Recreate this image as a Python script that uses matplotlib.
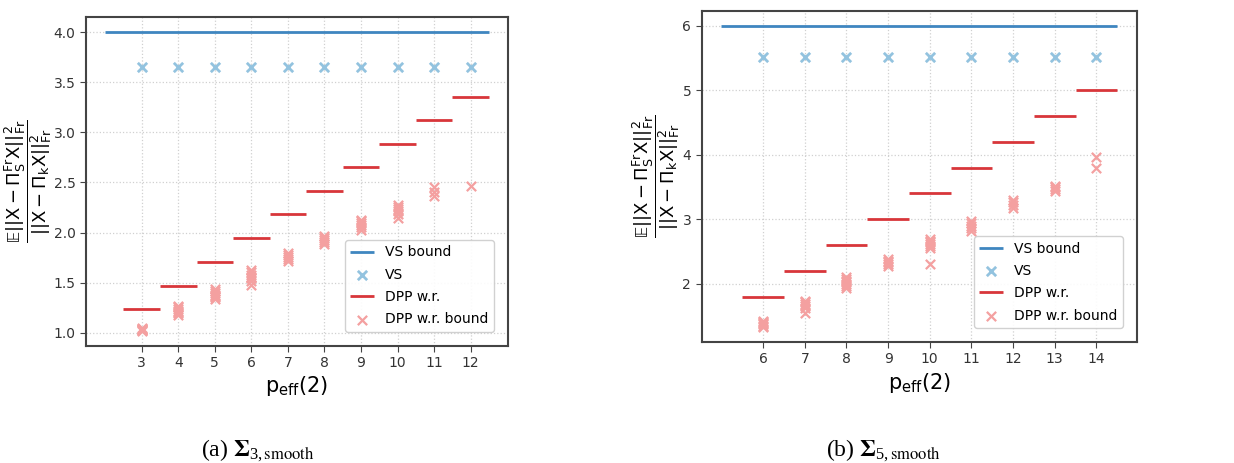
import matplotlib
matplotlib.use("Agg")
import matplotlib.pyplot as plt

plt.rcParams['mathtext.default'] = 'regular'
plt.rcParams['font.family'] = ['DejaVu Sans']

# panel (a): Sigma_3,smooth
p_a = [3, 4, 5, 6, 7, 8, 9, 10, 11, 12]
vs_bound_a = 4.0
vs_a = [3.65, 3.65, 3.65, 3.65, 3.65, 3.65, 3.65, 3.65, 3.65, 3.65]
dpp_a = [1.236, 1.472, 1.709, 1.945, 2.181, 2.414, 2.650, 2.886, 3.122, 3.355]
dpp_samples_a = [
    [1.02, 1.03, 1.04, 1.05, 1.03, 1.04],
    [1.18, 1.20, 1.22, 1.24, 1.26, 1.27, 1.21],
    [1.34, 1.36, 1.38, 1.40, 1.42, 1.44, 1.37],
    [1.48, 1.52, 1.55, 1.58, 1.61, 1.63, 1.56],
    [1.72, 1.74, 1.76, 1.78, 1.80],
    [1.89, 1.91, 1.93, 1.95, 1.97],
    [2.03, 2.06, 2.08, 2.10, 2.12, 2.13],
    [2.15, 2.19, 2.22, 2.24, 2.26, 2.28],
    [2.37, 2.41, 2.46],
    [2.47],
]

# panel (b): Sigma_5,smooth
p_b = [6, 7, 8, 9, 10, 11, 12, 13, 14]
vs_bound_b = 6.0
vs_b = [5.51, 5.51, 5.51, 5.51, 5.51, 5.51, 5.51, 5.51, 5.51]
dpp_b = [1.8, 2.2, 2.6, 3.0, 3.4, 3.8, 4.2, 4.6, 5.0]
dpp_samples_b = [
    [1.33, 1.35, 1.37, 1.39, 1.41, 1.43],
    [1.55, 1.62, 1.65, 1.68, 1.71, 1.74],
    [1.93, 1.96, 1.99, 2.02, 2.05, 2.08, 2.10],
    [2.27, 2.30, 2.33, 2.36, 2.38],
    [2.31, 2.55, 2.58, 2.61, 2.64, 2.67, 2.69],
    [2.82, 2.86, 2.90, 2.94, 2.98],
    [3.18, 3.22, 3.26, 3.30],
    [3.44, 3.47, 3.50, 3.52],
    [3.79, 3.97],
]

YLABEL = (r'$\dfrac{\mathbb{E}||X-\Pi_S^{Fr}X||_{Fr}^2}'
          r'{||X-\Pi_kX||_{Fr}^2}$')


def draw_panel(ax, p, vs_bound, vs, dpp, samples, label_x):
    ax.hlines(vs_bound, min(p) - 1, max(p) + 0.5, color='#3f86c0', lw=2,
              label='VS bound', zorder=3)
    ax.scatter(p, vs, marker='x', s=45, color='#93c3df', lw=2, label='VS',
               zorder=3)
    for i, (k, v) in enumerate(zip(p, dpp)):
        ax.hlines(v, k - 0.5, k + 0.5, color='#d8363a', lw=2,
                  label='DPP w.r.' if i == 0 else None, zorder=3)
    for i, (k, s) in enumerate(zip(p, samples)):
        ax.scatter([k] * len(s), s, marker='x', s=45, color='#f4a0a0', lw=1.6,
                   label='DPP w.r. bound' if i == 0 else None, zorder=3)
    ax.set_xticks(p)
    ax.grid(True, ls=':', color='#d0d0d0', lw=0.9)
    ax.set_axisbelow(True)
    for sp in ax.spines.values():
        sp.set_color('#444444')
        sp.set_linewidth(1.5)
    ax.tick_params(labelsize=10, color='#444444', labelcolor='#333333', length=4)
    ax.set_xlabel(r'$p_{eff}(2)$', fontsize=15, labelpad=3)
    ax.set_ylabel(YLABEL, fontsize=13)
    ax.yaxis.set_label_coords(label_x, 0.5)
    ax.legend(loc='lower right', fontsize=10, framealpha=0.9,
              borderaxespad=1.0, scatterpoints=1, handlelength=1.7,
              labelspacing=0.6)


fig = plt.figure(figsize=(12.34, 4.63), dpi=100)
ax_a = fig.add_axes([0.0697, 0.253, 0.342, 0.710])
ax_b = fig.add_axes([0.5686, 0.2613, 0.3528, 0.7157])

draw_panel(ax_a, p_a, vs_bound_a, vs_a, dpp_a, dpp_samples_a, -0.075)
draw_panel(ax_b, p_b, vs_bound_b, vs_b, dpp_b, dpp_samples_b, -0.045)

fig.text(0.209, 0.014, r'(a) $\boldsymbol{\Sigma}_{3,\mathrm{smooth}}$',
         ha='center', fontsize=17, family='Liberation Serif', math_fontfamily='stix')
fig.text(0.716, 0.014, r'(b) $\boldsymbol{\Sigma}_{5,\mathrm{smooth}}$',
         ha='center', fontsize=17, family='Liberation Serif', math_fontfamily='stix')

fig.savefig('out.png', dpi=100)
